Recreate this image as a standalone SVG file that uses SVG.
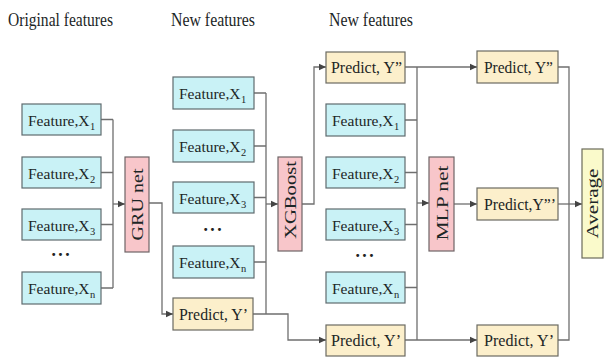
<svg xmlns="http://www.w3.org/2000/svg" width="604" height="361" viewBox="0 0 604 361">
<style>
  text { font-family: "Liberation Serif", "Times New Roman", serif; fill: #1c2626; }
  .title { font-size: 18px; }
  .lbl { font-size: 17px; }
  .flbl { font-size: 15.5px; }
  .sub { font-size: 10.5px; }
  .feat { fill: #c9f2f6; stroke: #5f6b6e; stroke-width: 1.2; }
  .pred { fill: #fcefcb; stroke: #6b6a62; stroke-width: 1.2; }
  .net { fill: #f8c6ca; stroke: #6e6466; stroke-width: 1.2; }
  .avg { fill: #fafacb; stroke: #6b6b5a; stroke-width: 1.2; }
  .dots { font-family: "DejaVu Sans", sans-serif; font-size: 10px; fill: #222; letter-spacing: 1px; }
  .rot { font-size: 17px; }
  #connectors path { fill: none; stroke: #6f6f6f; stroke-width: 1.3; }
  #connectors .arr { marker-end: url(#ah); }
</style>
<defs>
  <marker id="ah" markerUnits="userSpaceOnUse" markerWidth="8" markerHeight="8" refX="7" refY="4" orient="auto">
    <path d="M0,0.8 L7,4 L0,7.2 Z" fill="#444"/>
  </marker>
</defs>

<g id="titles">
  <text class="title" x="8" y="26" textLength="105" lengthAdjust="spacingAndGlyphs">Original features</text>
  <text class="title" x="171" y="26" textLength="84" lengthAdjust="spacingAndGlyphs">New features</text>
  <text class="title" x="329" y="26" textLength="84" lengthAdjust="spacingAndGlyphs">New features</text>
</g>

<g id="connectors">
  <path d="M101,119.5 H113 M101,172.5 H113 M101,224.5 H113 M101,288 H113 M113,119.5 V288"/>
  <path class="arr" d="M113,204 H125"/>
  <path class="arr" d="M149,203 H162 V314 H173"/>
  <path d="M254,93 H266 M254,146 H266 M254,197.5 H266 M254,262 H266 M266,93 V314"/>
  <path class="arr" d="M266,204 H278"/>
  <path class="arr" d="M253,314 H288 V340 H326"/>
  <path class="arr" d="M302,204 H314 V67 H326"/>
  <path d="M405,120 H417 M405,172.5 H417 M405,224.5 H417 M405,287.5 H417 M417,67 V340"/>
  <path class="arr" d="M405,67 H477"/>
  <path class="arr" d="M405,340 H477"/>
  <path class="arr" d="M417,203 H429"/>
  <path class="arr" d="M454,204 H477"/>
  <path d="M558,67 H569 V340 H558"/>
  <path class="arr" d="M558,204 H582"/>
</g>

<g id="f1a"><rect class="feat" x="22" y="104" width="79" height="31"/><text class="flbl" x="28" y="126">Feature,X<tspan class="sub" dx="0.5" dy="4">1</tspan></text></g>
<g id="f2a"><rect class="feat" x="22" y="157" width="79" height="31"/><text class="flbl" x="28" y="179">Feature,X<tspan class="sub" dx="0.5" dy="4">2</tspan></text></g>
<g id="f3a"><rect class="feat" x="22" y="209" width="79" height="31"/><text class="flbl" x="28" y="231">Feature,X<tspan class="sub" dx="0.5" dy="4">3</tspan></text></g>
<g id="dotsa"><text class="dots" x="61" y="258" text-anchor="middle">•••</text></g>
<g id="fna"><rect class="feat" x="22" y="272" width="79" height="32"/><text class="flbl" x="28" y="294">Feature,X<tspan class="sub" dx="0.5" dy="4">n</tspan></text></g>

<g id="gru"><rect class="net" x="125" y="157" width="24" height="95"/><text class="rot" transform="translate(143,204.5) rotate(-90)" text-anchor="middle" textLength="72" lengthAdjust="spacingAndGlyphs">GRU net</text></g>

<g id="f1b"><rect class="feat" x="173" y="77" width="81" height="32"/><text class="flbl" x="179" y="99">Feature,X<tspan class="sub" dx="0.5" dy="4">1</tspan></text></g>
<g id="f2b"><rect class="feat" x="173" y="130" width="81" height="32"/><text class="flbl" x="179" y="152">Feature,X<tspan class="sub" dx="0.5" dy="4">2</tspan></text></g>
<g id="f3b"><rect class="feat" x="173" y="182" width="81" height="31"/><text class="flbl" x="179" y="204">Feature,X<tspan class="sub" dx="0.5" dy="4">3</tspan></text></g>
<g id="dotsb"><text class="dots" x="213" y="233" text-anchor="middle">•••</text></g>
<g id="fnb"><rect class="feat" x="173" y="246" width="81" height="32"/><text class="flbl" x="179" y="268">Feature,X<tspan class="sub" dx="0.5" dy="4">n</tspan></text></g>
<g id="pyb"><rect class="pred" x="173" y="298" width="80" height="32"/><text class="lbl" x="179" y="320" textLength="69" lengthAdjust="spacingAndGlyphs">Predict, Y’</text></g>

<g id="xgb"><rect class="net" x="278" y="157" width="24" height="94"/><text class="rot" transform="translate(296,200) rotate(-90)" text-anchor="middle" textLength="78" lengthAdjust="spacingAndGlyphs">XGBoost</text></g>

<g id="py2c"><rect class="pred" x="326" y="52" width="79" height="31"/><text class="lbl" x="331" y="73" textLength="71" lengthAdjust="spacingAndGlyphs">Predict, Y”</text></g>
<g id="f1c"><rect class="feat" x="326" y="104" width="79" height="32"/><text class="flbl" x="332" y="126">Feature,X<tspan class="sub" dx="0.5" dy="4">1</tspan></text></g>
<g id="f2c"><rect class="feat" x="326" y="157" width="79" height="31"/><text class="flbl" x="332" y="179">Feature,X<tspan class="sub" dx="0.5" dy="4">2</tspan></text></g>
<g id="f3c"><rect class="feat" x="326" y="209" width="79" height="31"/><text class="flbl" x="332" y="231">Feature,X<tspan class="sub" dx="0.5" dy="4">3</tspan></text></g>
<g id="dotsc"><text class="dots" x="365" y="259" text-anchor="middle">•••</text></g>
<g id="fnc"><rect class="feat" x="326" y="272" width="79" height="31"/><text class="flbl" x="332" y="294">Feature,X<tspan class="sub" dx="0.5" dy="4">n</tspan></text></g>
<g id="pyc"><rect class="pred" x="326" y="325" width="79" height="31"/><text class="lbl" x="331" y="346" textLength="70" lengthAdjust="spacingAndGlyphs">Predict, Y’</text></g>

<g id="mlp"><rect class="net" x="429" y="157" width="25" height="94"/><text class="rot" transform="translate(447.5,203) rotate(-90)" text-anchor="middle" textLength="75" lengthAdjust="spacingAndGlyphs">MLP net</text></g>

<g id="py2d"><rect class="pred" x="477" y="51" width="81" height="32"/><text class="lbl" x="484" y="73" textLength="69" lengthAdjust="spacingAndGlyphs">Predict, Y”</text></g>
<g id="py3d"><rect class="pred" x="477" y="188" width="81" height="32"/><text class="lbl" x="484" y="210" textLength="72" lengthAdjust="spacingAndGlyphs">Predict,Y”’</text></g>
<g id="pyd"><rect class="pred" x="477" y="325" width="81" height="31"/><text class="lbl" x="484" y="346" textLength="70" lengthAdjust="spacingAndGlyphs">Predict, Y’</text></g>

<g id="avg"><rect class="avg" x="582" y="149" width="21" height="109"/><text class="rot" transform="translate(598,203.5) rotate(-90)" text-anchor="middle" textLength="70" lengthAdjust="spacingAndGlyphs">Average</text></g>
</svg>
